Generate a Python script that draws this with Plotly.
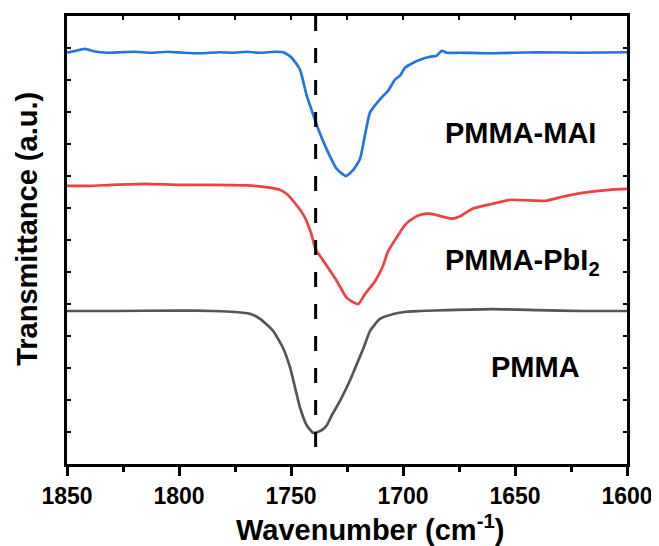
import plotly.graph_objects as go

# ---- data (wavenumber in cm^-1, transmittance in arbitrary offset units) ----
mai_wn = [1850, 1846, 1842, 1838, 1832, 1826, 1820, 1812, 1805, 1798, 1790, 1782, 1775, 1770,
          1763.8, 1757, 1753.4, 1749.7, 1746, 1743, 1740, 1737.8, 1734.1, 1729.6, 1725.5, 1722.2,
          1719.2, 1717, 1714.7, 1710.3, 1706.6, 1703.6, 1701.3, 1699.1, 1695.4, 1692.4, 1688, 1685,
          1682.7, 1680.5, 1674.6, 1660, 1640, 1620, 1600]
mai_t = [414, 416, 418, 415.5, 414, 414.5, 415, 414, 415, 414, 413.5, 414.5, 414, 415,
         414, 415, 414.5, 409, 397, 371, 351, 337, 317, 297, 290, 296,
         307, 331, 354, 367, 376, 387, 391, 399, 404, 407, 410, 411,
         416, 414, 414, 413.5, 414.5, 414, 414.5]

pbi_wn = [1850, 1840, 1830, 1815, 1800, 1785, 1770, 1762, 1755, 1752, 1748, 1744, 1741, 1739,
          1736, 1733, 1729.5, 1725, 1720, 1717, 1712.5, 1709, 1706.7, 1702, 1699, 1695, 1692,
          1688, 1684, 1678, 1674, 1669, 1660, 1652, 1645, 1636, 1629, 1620, 1608, 1600]
pbi_t = [280, 280, 281, 282, 281, 281, 280.5, 279, 276, 272, 262, 249, 232, 216,
         206, 196, 184, 167, 161, 171, 184, 199, 214, 231, 241, 248, 251,
         252, 250, 247, 250, 257, 262, 266, 265.5, 265, 269, 273, 276, 277]

pmma_wn = [1850, 1830, 1800, 1785, 1775, 1768, 1763.8, 1758, 1753.6, 1750.4, 1748.2, 1746, 1743,
           1740, 1736.3, 1734, 1731.8, 1728, 1723.7, 1720, 1717.6, 1714.7, 1710.3, 1704.3,
           1698.4, 1692.4, 1680, 1660, 1640, 1620, 1600]
pmma_t = [154, 154, 154.5, 154, 153, 151, 146, 134, 117, 97, 77, 57, 39,
          31.3, 34, 39, 49, 64, 84, 104, 117, 134, 146, 151,
          153.3, 154, 155, 156, 155, 154, 154]

marker_wn = [1739, 1739]
marker_t = [451, 0]

series_names = ["PMMA-MAI", "PMMA-PbI<sub>2</sub>", "PMMA"]
series_colors = ["#2374E1", "#EF4141", "#555555"]

x_range = [1850, 1600]
y_range = [0, 451]

FONT = "Liberation Sans, Arial, sans-serif"

fig = go.Figure()
for wn, t, c in [(mai_wn, mai_t, series_colors[0]),
                 (pbi_wn, pbi_t, series_colors[1]),
                 (pmma_wn, pmma_t, series_colors[2])]:
    fig.add_trace(go.Scatter(x=wn, y=t, mode="lines",
                             line=dict(color=c, width=2.7, shape="spline", smoothing=0.5),
                             showlegend=False, hoverinfo="skip"))

fig.add_trace(go.Scatter(x=marker_wn, y=marker_t, xaxis="x2", mode="lines",
                         line=dict(color="black", width=3, dash="15px,17px"),
                         showlegend=False, hoverinfo="skip"))

# page body has an 8px default margin, so the figure is sized to fit the window
fig.update_layout(
    width=651, height=538,
    margin=dict(l=59, r=32, t=5, b=82),
    plot_bgcolor="white", paper_bgcolor="white",
    xaxis=dict(range=x_range, showgrid=False, zeroline=False,
               showline=True, linewidth=3, linecolor="black", mirror=True,
               ticks="outside", ticklen=9, tickwidth=2.5, tickcolor="black",
               tick0=1600, dtick=50,
               minor=dict(ticks="outside", ticklen=5, tickwidth=2.5, tickcolor="black", dtick=25),
               tickfont=dict(family=FONT, size=23, color="black", weight="bold")),
    xaxis2=dict(range=x_range, overlaying="x", side="top", anchor="y",
                showgrid=False, zeroline=False, showline=False,
                ticks="inside", ticklen=4, tickwidth=2, tickcolor="black",
                tick0=1600, dtick=25, showticklabels=False),
    yaxis=dict(range=y_range, showgrid=False, zeroline=False,
               showline=True, linewidth=3, linecolor="black", mirror="ticks",
               ticks="inside", ticklen=4, tickwidth=2, tickcolor="black",
               tick0=0, dtick=451 / 14, showticklabels=False),
)

ann_font = dict(family=FONT, size=29, color="black", weight="bold")
fig.add_annotation(text=series_names[0], xref="paper", yref="paper", x=0.6714, y=0.7395,
                   xanchor="left", yanchor="middle", showarrow=False, font=ann_font)
fig.add_annotation(text=series_names[1], xref="paper", yref="paper", x=0.6714, y=0.4501,
                   xanchor="left", yanchor="middle", showarrow=False, font=ann_font)
fig.add_annotation(text=series_names[2], xref="paper", yref="paper", x=0.7536, y=0.2173,
                   xanchor="left", yanchor="middle", showarrow=False, font=ann_font)

fig.add_annotation(text="Wavenumber (cm<sup>-1</sup>)", xref="paper", yref="paper",
                   x=0.541, y=-0.142, xanchor="center", yanchor="middle",
                   showarrow=False, font=ann_font)
fig.add_annotation(text="Transmittance (a.u.)", xref="paper", yref="paper",
                   x=-0.0714, y=0.525, xanchor="center", yanchor="middle", textangle=-90,
                   showarrow=False, font=ann_font)

fig.write_html("out.html")
